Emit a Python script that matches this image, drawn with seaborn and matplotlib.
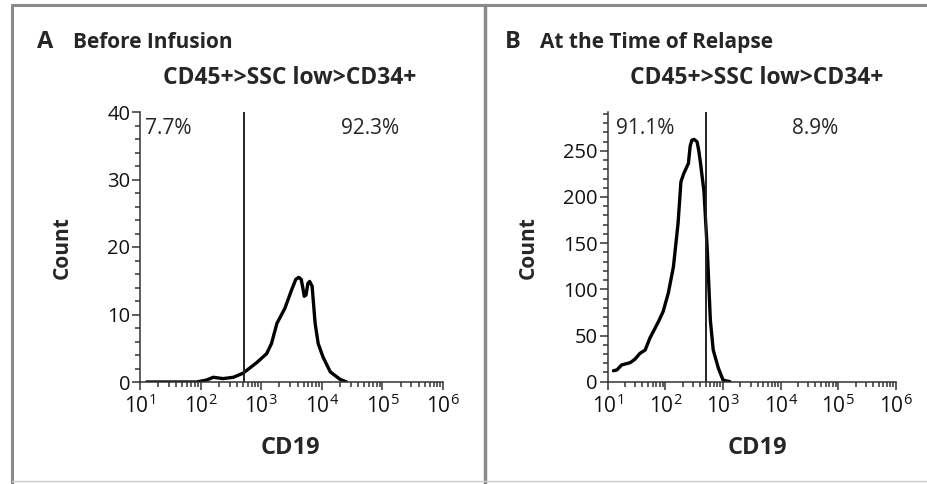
import numpy as np
import pandas as pd
import matplotlib
matplotlib.use("Agg")
import matplotlib.pyplot as plt
import seaborn as sns
from matplotlib.lines import Line2D
from matplotlib.ticker import LogLocator, MultipleLocator

# --- Data (x in log10 CD19 units, y = count) ---
a_log_cd19 = [1.11, 1.50, 1.94, 2.10, 2.21, 2.37, 2.54, 2.70, 2.93, 3.09, 3.17, 3.26,
              3.39, 3.50, 3.57, 3.62, 3.66, 3.69, 3.71, 3.74, 3.77, 3.80, 3.84, 3.89,
              3.94, 4.02, 4.14, 4.30, 4.41]
a_count = [0.0, 0.0, 0.0, 0.3, 0.7, 0.5, 0.7, 1.3, 2.9, 4.2, 5.7, 8.7,
           10.9, 13.6, 15.2, 15.5, 15.2, 13.8, 12.7, 12.9, 14.6, 14.9, 14.2, 8.7,
           5.7, 3.7, 1.5, 0.4, 0.0]

b_log_cd19 = [1.10, 1.16, 1.24, 1.39, 1.47, 1.56, 1.65, 1.73, 1.88, 1.96, 2.05, 2.14,
              2.22, 2.27, 2.32, 2.40, 2.43, 2.46, 2.50, 2.55, 2.58, 2.61, 2.67, 2.73,
              2.78, 2.83, 2.92, 3.00, 3.12]
b_count = [11.9, 12.7, 18.1, 20.6, 24.2, 30.7, 34.3, 47.0, 65.0, 75.8, 95.6, 124.5,
           171.4, 216.5, 225.5, 236.4, 255.0, 261.5, 262.3, 259.7, 250.0, 236.4, 205.6, 139.0,
           66.8, 34.3, 14.5, 1.8, 0.0]

gate_a = 520
gate_b = 500
panel_letters = ["A", "B"]
panel_titles = ["Before Infusion", "At the Time of Relapse"]
gating_label = "CD45+>SSC low>CD34+"
pct_left = ["7.7%", "91.1%"]
pct_right = ["92.3%", "8.9%"]
y_max = [40, 292]
y_major = [10, 50]
y_minor = [2, 10]

W, H = 927, 484

def fx(px):
    return px / W

def fy(py):
    return 1 - py / H

sns.set_style("ticks")
plt.rcParams['font.family'] = ['Open Sans', 'DejaVu Sans']
plt.rcParams['mathtext.fontset'] = 'custom'
plt.rcParams['mathtext.rm'] = 'Open Sans'
plt.rcParams['mathtext.it'] = 'Open Sans'
plt.rcParams['mathtext.bf'] = 'Open Sans:bold'

fig = plt.figure(figsize=(W / 100, H / 100), dpi=100)

# axes boxes in pixel coords: left, right, top, bottom
boxes = [(140, 443, 112, 382), (607.7, 896, 112, 381.7)]
curves = [(a_log_cd19, a_count), (b_log_cd19, b_count)]
gates = [gate_a, gate_b]
title_x = [(37, 73), (505, 540)]
sub_cx = [290, 757]
pct_x = [(145, 370), (616, 815)]
count_x = [62, 528]

for i in range(2):
    l, r, t, b = boxes[i]
    ax = fig.add_axes([fx(l), fy(b), fx(r - l), (b - t) / H])
    xs, ys = curves[i]
    df = pd.DataFrame({"CD19": 10 ** np.array(xs), "Count": ys})
    sns.lineplot(data=df, x="CD19", y="Count", ax=ax, color="black",
                 linewidth=2.4, sort=False)
    ax.lines[-1].set_solid_joinstyle("round")
    ax.set_xscale("log")
    ax.set_xlim(10, 1e6)
    ax.set_ylim(0, y_max[i])
    ax.axvline(gates[i], color="#222222", linewidth=1.4)

    ax.xaxis.set_major_locator(LogLocator(base=10, numticks=10))
    ax.xaxis.set_minor_locator(LogLocator(base=10, subs=np.arange(2, 10), numticks=20))
    ax.yaxis.set_major_locator(MultipleLocator(y_major[i]))
    ax.yaxis.set_minor_locator(MultipleLocator(y_minor[i]))
    ax.tick_params(axis="y", which="major", labelsize=14.5)
    ax.tick_params(axis="x", which="major", labelsize=15, pad=3)
    ax.tick_params(axis="both", which="major", length=6, width=1.1,
                   color="#333333", labelcolor="#111111")
    ax.tick_params(axis="y", which="major", pad=1)
    ax.tick_params(axis="both", which="minor", length=3.5, width=1.1, color="#333333")
    for s in ["top", "right"]:
        ax.spines[s].set_visible(False)
    for s in ["left", "bottom"]:
        ax.spines[s].set_linewidth(1.1)
        ax.spines[s].set_color("#333333")
    ax.set_xlabel("")
    ax.set_ylabel("")

    # texts
    lx, tx = title_x[i]
    fig.text(fx(lx), fy(48), panel_letters[i], fontsize=17, fontweight="bold",
             ha="left", va="baseline")
    fig.text(fx(tx), fy(48), panel_titles[i], fontsize=15, fontweight="bold",
             ha="left", va="baseline")
    fig.text(fx(sub_cx[i]), fy(84), gating_label, fontsize=16.5, fontweight="bold",
             ha="center", va="baseline")
    fig.text(fx(pct_x[i][0]), fy(134), pct_left[i], fontsize=15, ha="left", va="baseline")
    fig.text(fx(pct_x[i][1]), fy(134), pct_right[i], fontsize=15, ha="center", va="baseline")
    fig.text(fx(count_x[i]), fy(248), "Count", fontsize=15, fontweight="bold",
             rotation=90, ha="center", va="center")
    fig.text(fx(sub_cx[i]), fy(454), "CD19", fontsize=17, fontweight="bold",
             ha="center", va="baseline")

# frame around panels
frame_col = "#8a8a8a"
fig.add_artist(Line2D([fx(12), fx(W)], [fy(5), fy(5)], color=frame_col, linewidth=2.2))
fig.add_artist(Line2D([fx(12), fx(12)], [fy(5), fy(H)], color=frame_col, linewidth=2.2))
fig.add_artist(Line2D([fx(485), fx(485)], [fy(5), fy(H)], color=frame_col, linewidth=2.5))
fig.add_artist(Line2D([fx(12), fx(W)], [fy(481), fy(481)], color="#cccccc", linewidth=1.0))

fig.savefig("out.png", dpi=100)
